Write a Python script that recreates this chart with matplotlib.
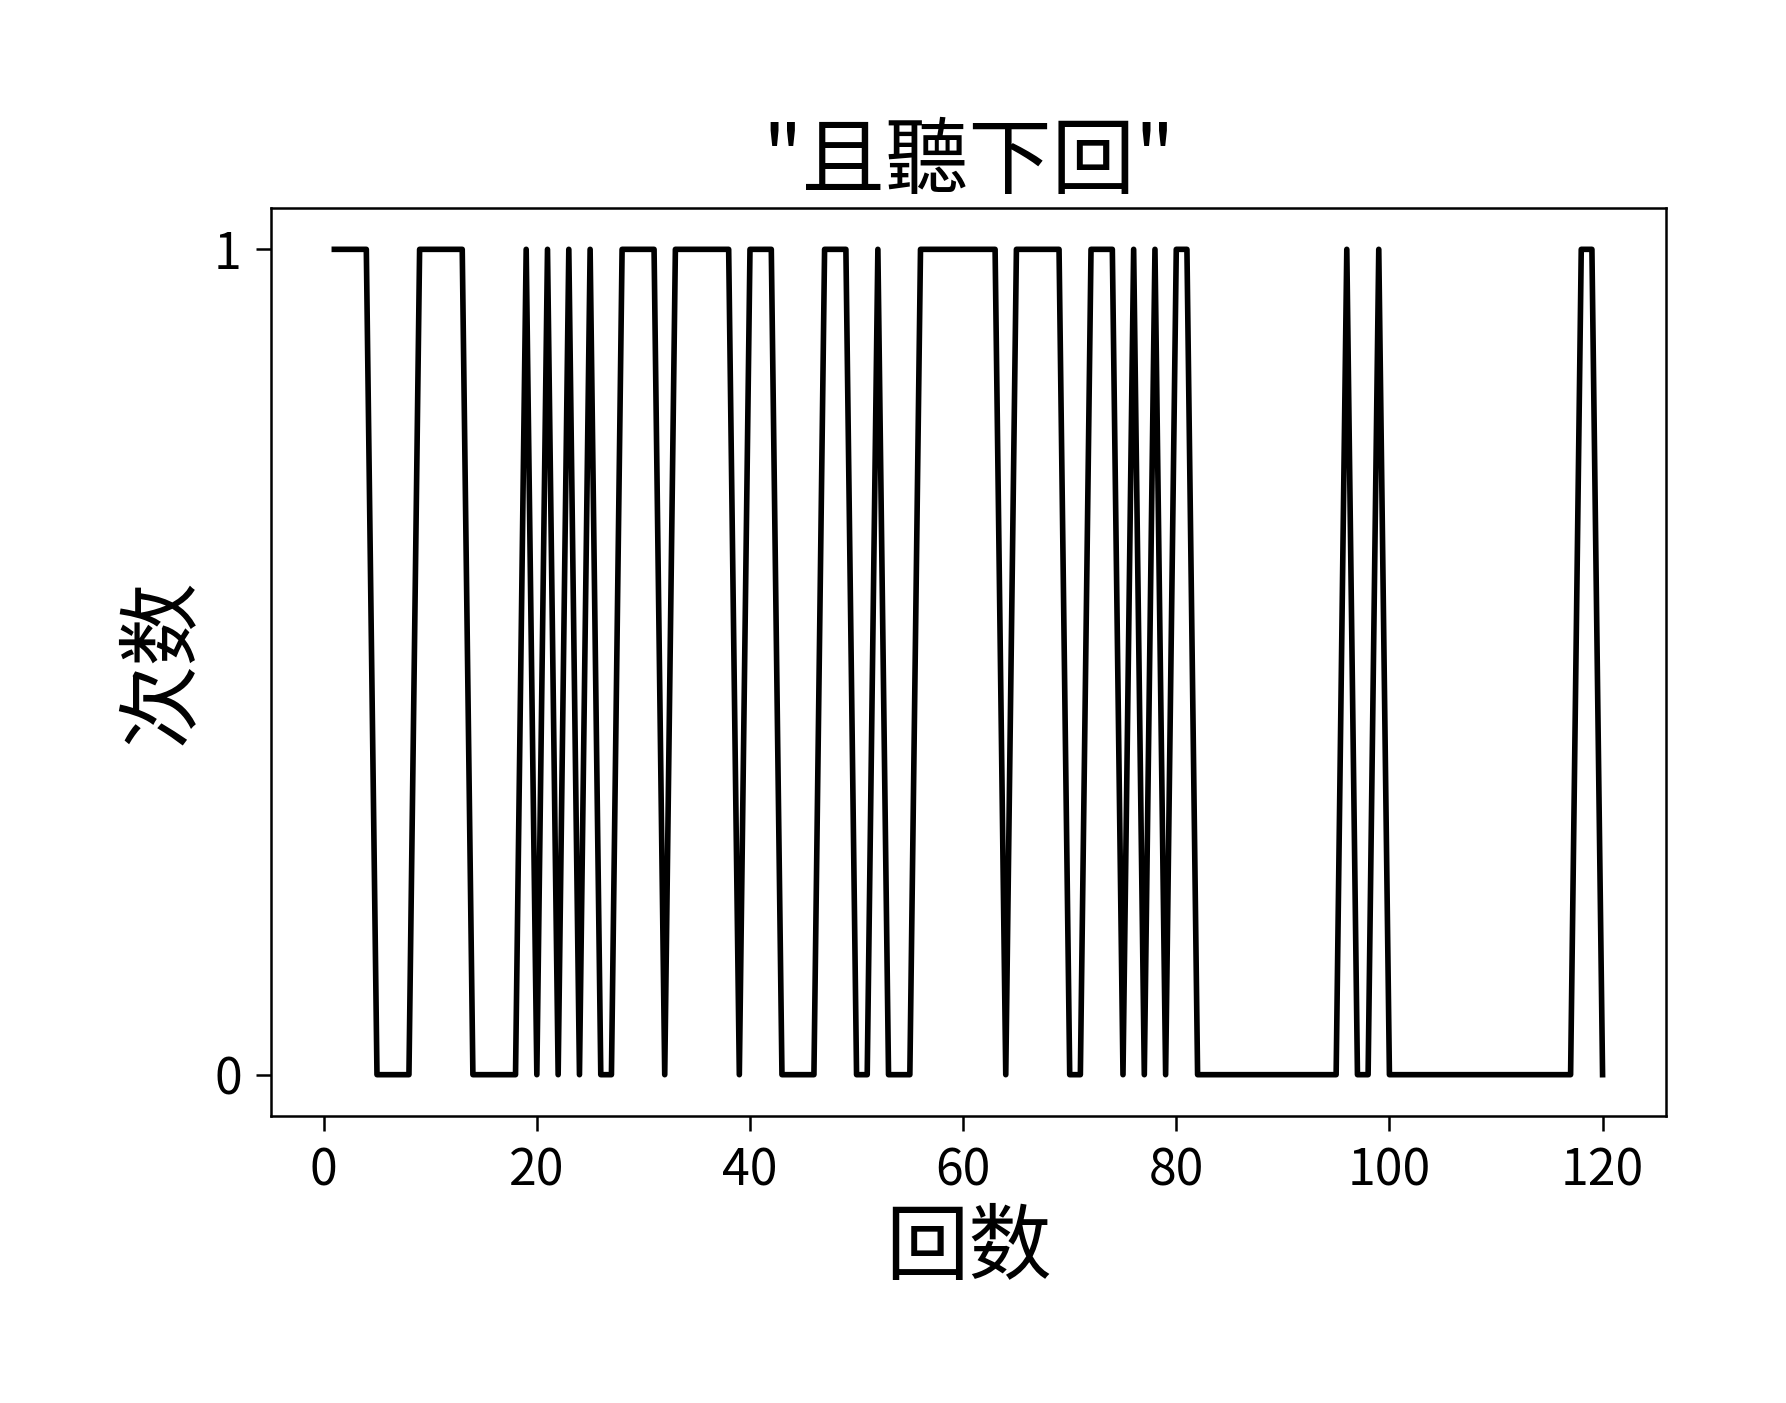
import matplotlib
matplotlib.use("Agg")
import matplotlib.pyplot as plt

plt.rcParams['font.family'] = ['Noto Sans CJK SC', 'DejaVu Sans']

rounds = list(range(1, 121))
hits = [1, 1, 1, 1, 0, 0, 0, 0, 1, 1,
        1, 1, 1, 0, 0, 0, 0, 0, 1, 0,
        1, 0, 1, 0, 1, 0, 0, 1, 1, 1,
        1, 0, 1, 1, 1, 1, 1, 1, 0, 1,
        1, 1, 0, 0, 0, 0, 1, 1, 1, 0,
        0, 1, 0, 0, 0, 1, 1, 1, 1, 1,
        1, 1, 1, 0, 1, 1, 1, 1, 1, 0,
        0, 1, 1, 1, 0, 1, 0, 1, 0, 1,
        1, 0, 0, 0, 0, 0, 0, 0, 0, 0,
        0, 0, 0, 0, 0, 1, 0, 0, 1, 0,
        0, 0, 0, 0, 0, 0, 0, 0, 0, 0,
        0, 0, 0, 0, 0, 0, 0, 1, 1, 0]

fig = plt.figure(figsize=(1786 / 300, 1403 / 300), dpi=300)
ax = fig.add_axes([0.1517, 0.2046, 0.7811, 0.6471])
ax.plot(rounds, hits, color='black', linewidth=1.35)
ax.set_yticks([0, 1])
ax.set_xticks([0, 20, 40, 60, 80, 100, 120])
ax.tick_params(labelsize=12, width=0.6, length=3.5)
for s in ax.spines.values():
    s.set_linewidth(0.6)
ax.set_title('"且聽下回"', fontsize=20, fontweight='medium', pad=5)
ax.set_xlabel('回数', fontsize=20, fontweight='medium', labelpad=2)
ax.set_ylabel('次数', fontsize=20, fontweight='medium', labelpad=2)

fig.savefig('out.png', dpi=300)
